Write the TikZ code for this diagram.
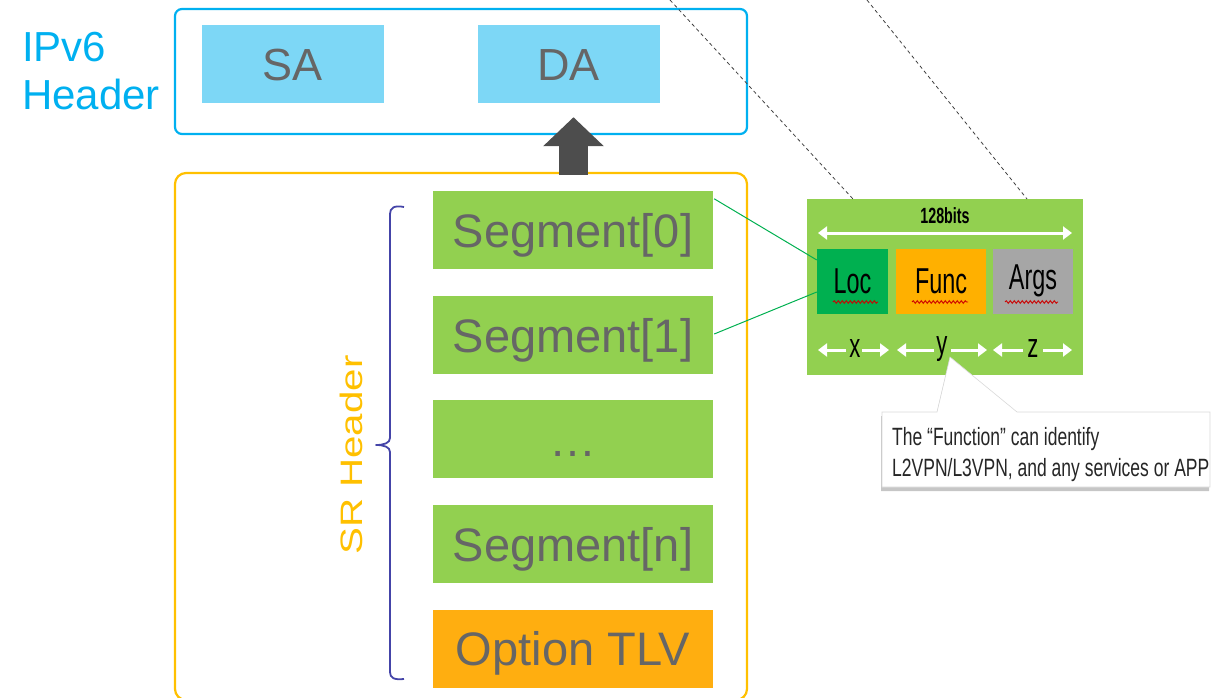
\documentclass[tikz,border=0pt]{standalone}
\usepackage{fontspec}
\setmainfont{Liberation Sans}
\newfontfamily\narrowfont[FakeStretch=0.65]{Liberation Sans}
\newfontfamily\callfont[FakeStretch=0.7]{Liberation Sans}
\newfontfamily\widefont[FakeStretch=1.3]{Liberation Sans}
\usetikzlibrary{arrows.meta,calc,decorations.pathmorphing,shadows}
\definecolor{ipblue}{HTML}{00B0F0}
\definecolor{safill}{HTML}{7DD7F6}
\definecolor{srorange}{HTML}{FFC000}
\definecolor{seggreen}{HTML}{92D050}
\definecolor{tlvorange}{HTML}{FFAE10}
\definecolor{txtgray}{HTML}{666666}
\definecolor{arrgray}{HTML}{4D4D4D}
\definecolor{bracecol}{HTML}{4444A8}
\definecolor{locgreen}{HTML}{00B050}
\definecolor{funcorange}{HTML}{FFB000}
\definecolor{argsgray}{HTML}{A6A6A6}
\definecolor{linkgreen}{HTML}{00B050}
\tikzset{
  outerbox/.style={draw, line width=2.2pt, rounded corners=7pt, minimum width=572pt, inner sep=0pt},
  addrbox/.style={fill=safill, minimum width=182pt, minimum height=78pt, inner sep=0pt,
    text height=33pt, text depth=0pt, text=txtgray, font=\fontsize{45}{50}\selectfont},
  segbox/.style={fill=seggreen, minimum width=280pt, minimum height=78pt, inner sep=0pt,
    text height=34pt, text depth=0pt, text=txtgray, font=\fontsize{47}{50}\selectfont},
  fieldbox/.style={minimum height=65pt, inner sep=0pt, text=black, font=\narrowfont\fontsize{36}{40}\selectfont},
  whitearrow/.style={draw=white, line width=3pt, arrows={-{Triangle[length=9pt,width=13pt]}}},
  dblarrow/.style={draw=white, line width=3pt, arrows={{Triangle[length=9pt,width=13pt]}-{Triangle[length=9pt,width=13pt]}}},
  insetlbl/.style={inner sep=0pt, text=black, font=\narrowfont\fontsize{34}{38}\selectfont},
  wavy/.style={draw=red!80!black, line width=0.9pt, decorate, decoration={snake, amplitude=1.3pt, segment length=4pt}},
  dashline/.style={draw=black!75, line width=0.8pt, dash pattern=on 3.5pt off 3pt},
  linkline/.style={draw=linkgreen, line width=1pt},
}
\begin{document}
\begin{tikzpicture}[x=1pt,y=1pt]
\useasboundingbox (0,0) rectangle (1212,-698);
% dashed lines (behind)
\coordinate (d1top) at (670,0);
\coordinate (d2top) at (867,0);
% IPv6 header
\node[outerbox, draw=ipblue, minimum height=125pt] (ipv6) at (461,-71.5) {};
\node[addrbox] (sa) at (292.5,-64) {SA};
\node[addrbox] (da) at (568.5,-64) {DA};
\node[anchor=north west, align=left, inner sep=0pt, text=ipblue, font=\fontsize{42}{48}\selectfont] (iplbl) at (22,-32) {IPv6\\Header};
% SR header box
\node[outerbox, draw=srorange, rounded corners=11pt, minimum height=527pt] (sr) at (461,-436.5) {};
% segments
\node[segbox] (seg0) at (573,-230) {Segment[0]};
\node[segbox] (seg1) at (573,-335) {Segment[1]};
\node[segbox] (segd) at (573,-439) {\dots};
\node[segbox] (segn) at (573,-544) {Segment[n]};
\node[segbox, fill=tlvorange] (tlv) at (573,-648.5) {Option TLV};
% big up arrow
\draw[draw=arrgray, line width=29pt, arrows={-{Triangle[length=29pt,width=59pt]}}]
  ($(sr.north)+(112.5,-3)$) -- ($(da.south)+(5,-14)$);
% brace
\draw[draw=bracecol, line width=1.8pt, line join=round]
  (404,-207) .. controls (394,-205) and (390,-208) .. (390,-214) -- (390,-438)
  .. controls (390,-443) and (384,-445) .. (376,-445)
  .. controls (384,-445) and (390,-447) .. (390,-452) -- (390,-672)
  .. controls (390,-678) and (394,-680) .. (404,-679);
\node[rotate=90, inner sep=0pt, text=srorange, font=\widefont\fontsize{31}{34}\selectfont] (srlbl) at (351,-455) {SR Header};
% inset
\node[fill=seggreen, minimum width=276pt, minimum height=176pt, inner sep=0pt] (inset) at (945,-287) {};
\coordinate (d1bot) at (853,-199);
\coordinate (d2bot) at (1027,-199);
\draw[dashline] (d1top) -- (d1bot);
\draw[dashline] (d2top) -- (d2bot);
\node[inner sep=0pt, text=black, font=\narrowfont\bfseries\fontsize{22}{24}\selectfont] (bits) at (945,-216) {128bits};
\coordinate (bl) at (818,-233);
\coordinate (br) at (1072,-233);
\draw[dblarrow] (bl) -- (br);
\node[fieldbox, fill=locgreen, minimum width=71pt] (loc) at (852.5,-281) {Loc};
\node[fieldbox, fill=funcorange, minimum width=90pt] (func) at (941,-281) {Func};
\node[fieldbox, fill=argsgray, minimum width=80pt] (args) at (1033,-281) {Args};
\draw[wavy] (833,-302) -- (878,-302);
\draw[wavy] (912,-302) -- (968,-302);
\draw[wavy] (1005,-302) -- (1058,-302);
% x y z
\node[insetlbl] (lx) at (855,-349) {x};
\node[insetlbl] (ly) at (942,-349) {y};
\node[insetlbl] (lz) at (1033,-349) {z};
\coordinate (xa) at (818,-350); \coordinate (xb) at (846,-350);
\coordinate (xc) at (862,-350); \coordinate (xd) at (889,-350);
\coordinate (ya) at (897,-350); \coordinate (yb) at (934,-350);
\coordinate (yc) at (951,-350); \coordinate (yd) at (987,-350);
\coordinate (za) at (993,-350); \coordinate (zb) at (1023,-350);
\coordinate (zc) at (1043,-350); \coordinate (zd) at (1072,-350);
\draw[whitearrow] (xb) -- (xa);
\draw[whitearrow] (xc) -- (xd);
\draw[whitearrow] (yb) -- (ya);
\draw[whitearrow] (yc) -- (yd);
\draw[whitearrow] (zb) -- (za);
\draw[whitearrow] (zc) -- (zd);
% green links
\draw[linkline] ($(seg0.north east)+(1,-8)$) -- ($(loc.west)+(0,21)$);
\draw[linkline] ($(seg1.east)+(1,1)$) -- ($(loc.west)+(0,-11)$);
% callout
\coordinate (tip) at (950,-357);
\path[fill=white, draw=black!15, line width=0.6pt, drop shadow={shadow xshift=-1pt, shadow yshift=-4pt, opacity=0.45}]
  (882,-412) -- (937,-412) -- (tip) -- (1017,-412) -- (1210,-412) -- (1210,-487) -- (882,-487) -- cycle;
\node[anchor=north west, align=left, inner sep=0pt, text=black!85, font=\callfont\fontsize{25}{31}\selectfont] (calltxt) at (892,-427)
  {The “Function” can identify\\L2VPN/L3VPN, and any services or APP};
\end{tikzpicture}
\end{document}
